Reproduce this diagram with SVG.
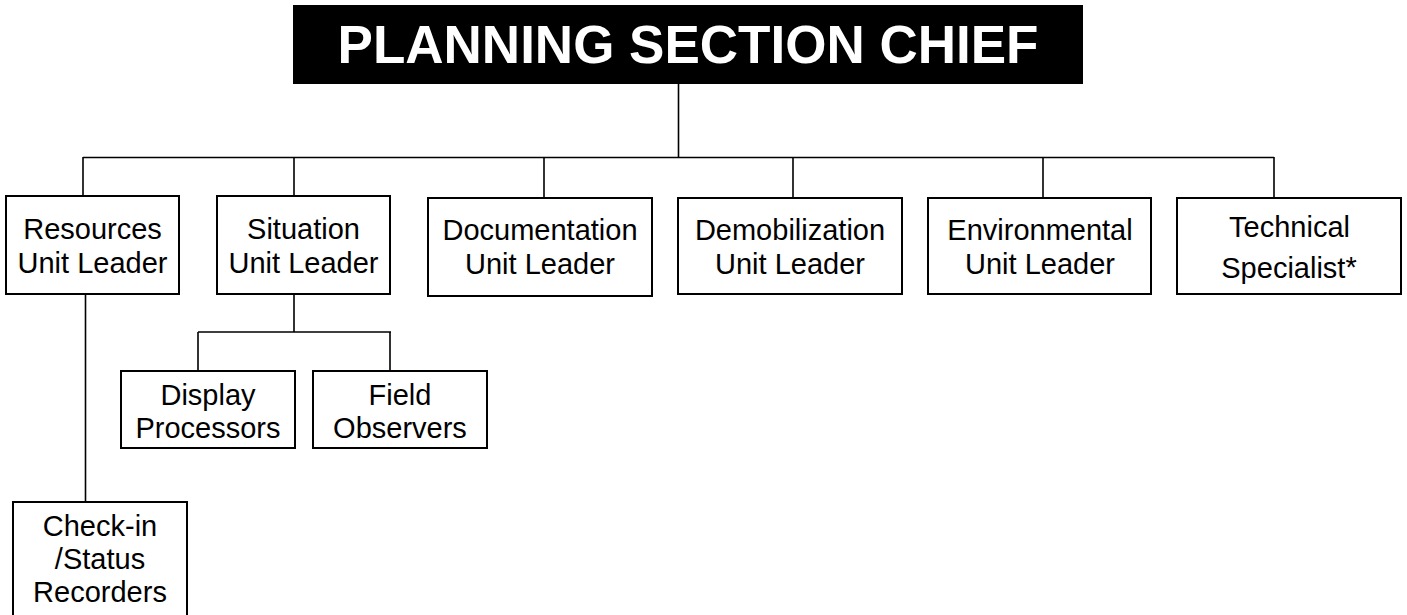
<svg xmlns="http://www.w3.org/2000/svg" width="1407" height="615" viewBox="0 0 1407 615">
<style>
.box{fill:#fff;stroke:#000;stroke-width:2}
.ln{fill:none;stroke:#000;stroke-width:1.6}
.t{font-family:"Liberation Sans",Arial,sans-serif;font-size:29px;fill:#000;text-anchor:middle}
.title{font-family:"Liberation Sans",Arial,sans-serif;font-size:53px;font-weight:bold;fill:#fff;text-anchor:middle}
</style>
<rect width="1407" height="615" fill="#fff"/>
<g id="connectors">
<path class="ln" d="M678.5 84V158"/>
<path class="ln" d="M83 157.5H1274"/>
<path class="ln" d="M83 157V196M294 157V196M544 157V198M793 157V198M1043 157V198M1274 157V198"/>
<path class="ln" d="M294 294V332M198 332H391M198 332V371M390 332V371"/>
<path class="ln" d="M85.5 294V502"/>
</g>
<g id="chief">
<rect x="293" y="5" width="790" height="79" fill="#000"/>
<text class="title" x="688" y="63">PLANNING SECTION CHIEF</text>
</g>
<g id="resources">
<rect class="box" x="6" y="196" width="173" height="98"/>
<text class="t" x="92.5" y="239">Resources</text>
<text class="t" x="92.5" y="273">Unit Leader</text>
</g>
<g id="situation">
<rect class="box" x="217" y="196" width="173" height="98"/>
<text class="t" x="303.5" y="239">Situation</text>
<text class="t" x="303.5" y="273">Unit Leader</text>
</g>
<g id="documentation">
<rect class="box" x="428" y="198" width="224" height="98"/>
<text class="t" x="540" y="240">Documentation</text>
<text class="t" x="540" y="274">Unit Leader</text>
</g>
<g id="demobilization">
<rect class="box" x="678" y="198" width="224" height="96"/>
<text class="t" x="790" y="240">Demobilization</text>
<text class="t" x="790" y="274">Unit Leader</text>
</g>
<g id="environmental">
<rect class="box" x="928" y="198" width="223" height="96"/>
<text class="t" x="1040" y="240">Environmental</text>
<text class="t" x="1040" y="274">Unit Leader</text>
</g>
<g id="technical">
<rect class="box" x="1177" y="198" width="224" height="96"/>
<text class="t" x="1289.5" y="237">Technical</text>
<text class="t" x="1289" y="278">Specialist<tspan dy="-1">*</tspan></text>
</g>
<g id="display">
<rect class="box" x="121" y="371" width="174" height="77"/>
<text class="t" x="208" y="405">Display</text>
<text class="t" x="208" y="438">Processors</text>
</g>
<g id="field">
<rect class="box" x="313" y="371" width="174" height="77"/>
<text class="t" x="400" y="405">Field</text>
<text class="t" x="400" y="438">Observers</text>
</g>
<g id="checkin">
<rect class="box" x="13" y="502" width="174" height="120"/>
<text class="t" x="100" y="536">Check-in</text>
<text class="t" x="100" y="569">/Status</text>
<text class="t" x="100" y="602">Recorders</text>
</g>
</svg>
